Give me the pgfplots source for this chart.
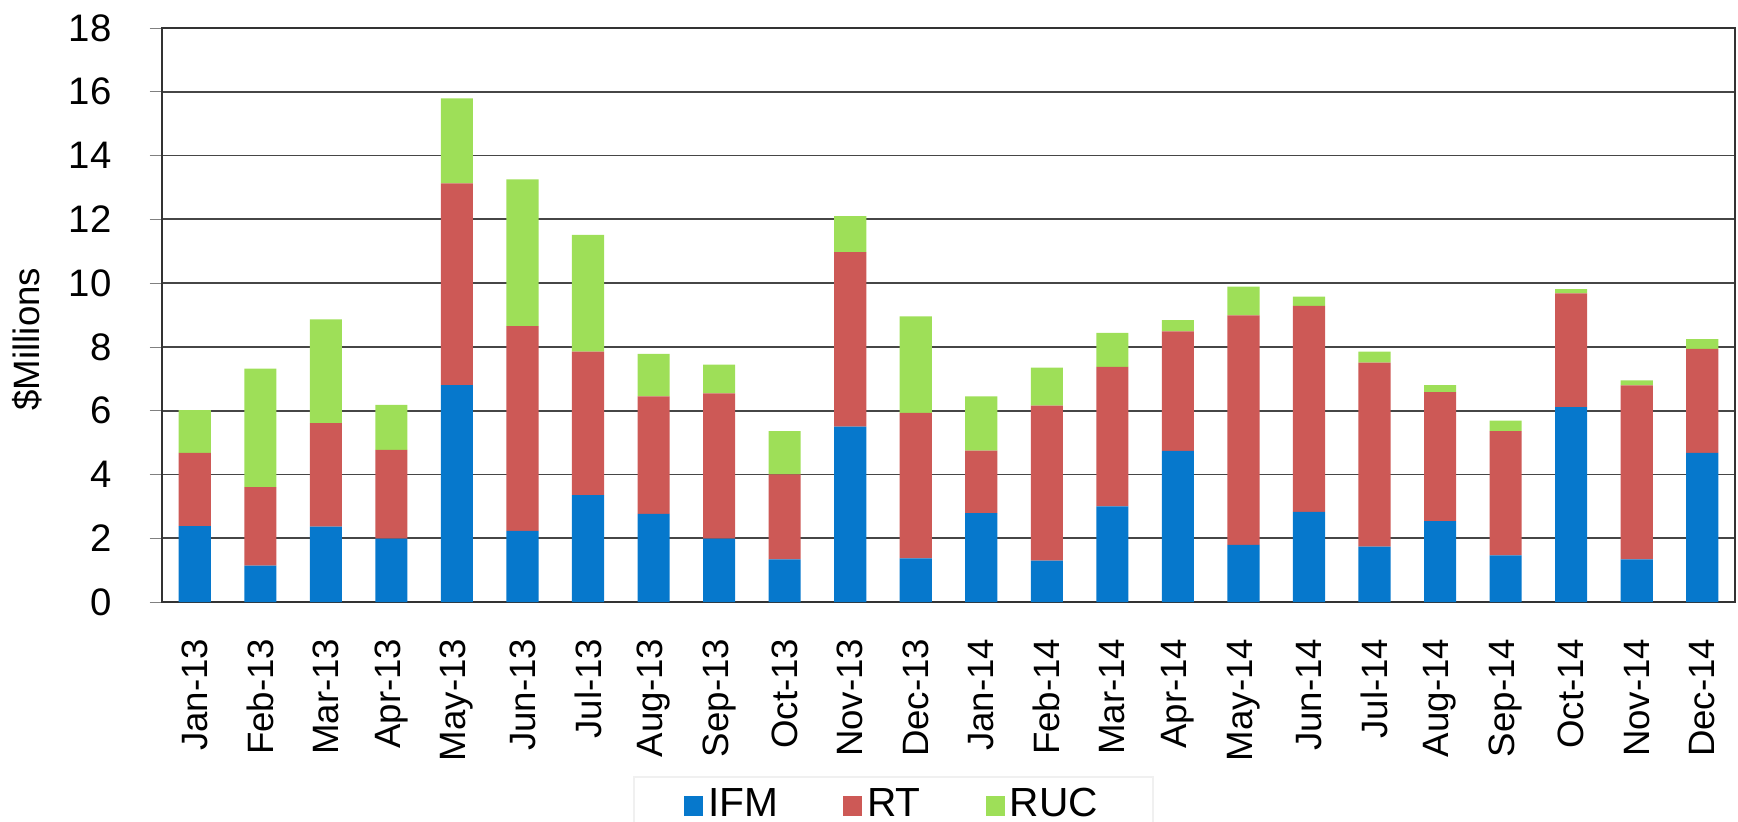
\documentclass[border=0pt]{standalone}
\usepackage{fontspec}
\setmainfont{Liberation Sans}
\usepackage{pgfplots}
\pgfplotsset{compat=1.18}
\definecolor{ifmblue}{RGB}{6,120,204}
\definecolor{rtred}{RGB}{205,89,86}
\definecolor{rucgreen}{RGB}{158,223,88}
\definecolor{gridgray}{RGB}{70,70,70}

% IFM, RT, RUC in $ millions per month (segments of each stack)
\usepackage{pgfplotstable}
\pgfplotstableread{
x  ifm   rt    ruc
0  2.38  2.30  1.34
1  1.14  2.46  3.72
2  2.36  3.25  3.25
3  1.99  2.78  1.41
4  6.80  6.33  2.66
5  2.23  6.42  4.60
6  3.35  4.50  3.66
7  2.76  3.69  1.33
8  1.99  4.55  0.90
9  1.34  2.66  1.36
10 5.50  5.47  1.13
11 1.37  4.56  3.03
12 2.79  1.96  1.70
13 1.30  4.86  1.19
14 3.00  4.37  1.07
15 4.74  3.75  0.35
16 1.79  7.20  0.90
17 2.83  6.46  0.29
18 1.74  5.77  0.34
19 2.54  4.04  0.22
20 1.46  3.90  0.33
21 6.11  3.57  0.13
22 1.34  5.45  0.16
23 4.68  3.26  0.30
}\costs

\begin{document}
\begin{tikzpicture}
\useasboundingbox (-48.6pt,-65.7pt) rectangle (472.8pt,180.6pt);
\begin{axis}[
    scale only axis,
    width=471.9pt,
    height=172.2pt,
    ybar stacked,
    bar width=0.49,
    xmin=-0.5, xmax=23.5,
    ymin=0, ymax=18,
    ytick={0,2,...,18},
    xtick={0,...,23},
    xticklabels={Jan-13,Feb-13,Mar-13,Apr-13,May-13,Jun-13,Jul-13,Aug-13,Sep-13,Oct-13,Nov-13,Dec-13,
                 Jan-14,Feb-14,Mar-14,Apr-14,May-14,Jun-14,Jul-14,Aug-14,Sep-14,Oct-14,Nov-14,Dec-14},
    x tick label style={rotate=90, anchor=east, xshift=-3.8pt, font=\fontsize{11}{13}\selectfont},
    y tick label style={xshift=-7.9pt, font=\fontsize{11.5}{13}\selectfont},
    /pgf/number format/assume math mode=true,
    major x tick style={draw=none},
    extra x ticks={-0.5,0.5,...,23.5},
    extra x tick labels={},
    extra x tick style={grid=none, major tick length=3.5pt, tick align=outside,
        tick style={draw=black!80, line width=0.4pt}},
    xtick pos=bottom,
    ytick pos=left,
    tick align=outside,
    major tick length=3.7pt,
    ymajorgrids,
    grid style={draw=gridgray, line width=0.5pt},
    axis line style={draw=black!80, line width=0.4pt},
    ylabel={\$Millions},
    ylabel style={at={(axis description cs:-0.0858,0.458)}, anchor=center, font=\fontsize{11}{13}\selectfont},
    legend columns=3,
    legend style={at={(0.465,-0.303)}, anchor=north, draw=black!6, line width=0.5pt,
        font=\fontsize{12.2}{14}\selectfont, inner xsep=15pt, inner ysep=1.5pt,
        nodes={inner xsep=1.5pt},
        /tikz/every even column/.append style={column sep=18pt}},
    legend image code/.code={\fill[#1] (0pt,-3.2pt) rectangle (5.7pt,2.6pt);},
    clip=false,
]
\addplot[fill=ifmblue, draw=none] table[x=x, y=ifm] {\costs};
\addlegendentry{IFM}
\addplot[fill=rtred, draw=none] table[x=x, y=rt] {\costs};
\addlegendentry{RT}
\addplot[fill=rucgreen, draw=none] table[x=x, y=ruc] {\costs};
\addlegendentry{RUC}
\end{axis}
\end{tikzpicture}
\end{document}
